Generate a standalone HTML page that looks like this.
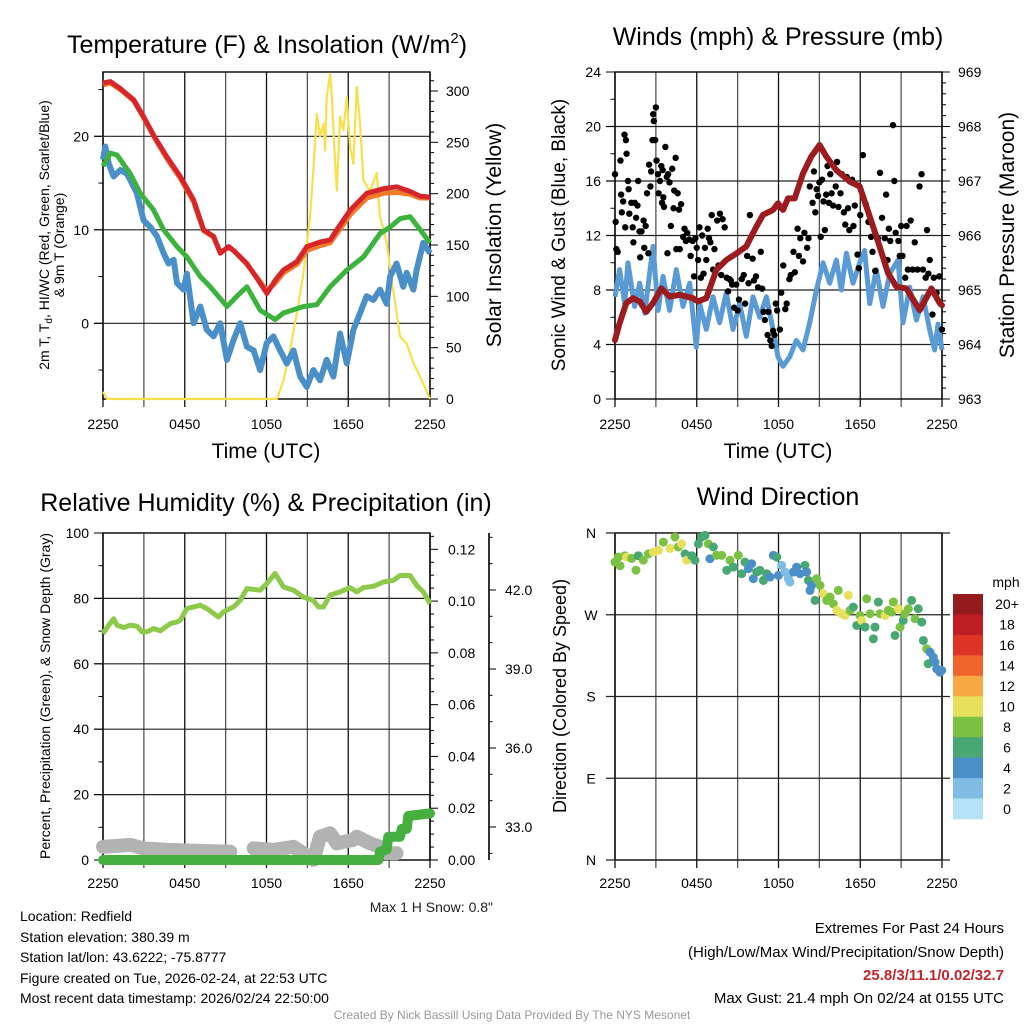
<!DOCTYPE html>
<html><head><meta charset="utf-8"><title>Mesonet Meteogram</title>
<style>
html,body{margin:0;padding:0;background:#fff;}
svg{display:block;font-family:"Liberation Sans",Arial,sans-serif;}
</style></head>
<body>
<svg id="chart" width="1024" height="1024" viewBox="0 0 1024 1024" xmlns="http://www.w3.org/2000/svg">
<rect x="0" y="0" width="1024" height="1024" fill="#fff"/>
<text x="267" y="53" font-size="25" text-anchor="middle">Temperature (F) &amp; Insolation (W/m<tspan dy="-10" font-size="15">2</tspan><tspan dy="10">)</tspan></text>
<text x="778" y="45" font-size="25" text-anchor="middle">Winds (mph) &amp; Pressure (mb)</text>
<text x="266" y="511" font-size="25" text-anchor="middle">Relative Humidity (%) &amp; Precipitation (in)</text>
<text x="778" y="505" font-size="25" text-anchor="middle">Wind Direction</text>
<text x="266" y="458" font-size="21" text-anchor="middle">Time (UTC)</text>
<text x="778" y="458" font-size="21" text-anchor="middle">Time (UTC)</text>
<text transform="translate(49,235) rotate(-90)" font-size="14" text-anchor="middle">2m T, T<tspan dy="3" font-size="10">d</tspan><tspan dy="-3">, HI/WC (Red, Green, Scarlet/Blue)</tspan></text>
<text transform="translate(64,245) rotate(-90)" font-size="14" text-anchor="middle">&amp; 9m T (Orange)</text>
<text transform="translate(501,235) rotate(-90)" font-size="21" text-anchor="middle">Solar Insolation (Yellow)</text>
<text transform="translate(565,235) rotate(-90)" font-size="19" text-anchor="middle">Sonic Wind &amp; Gust (Blue, Black)</text>
<text transform="translate(1014,235) rotate(-90)" font-size="21" text-anchor="middle">Station Pressure (Maroon)</text>
<text transform="translate(50,696) rotate(-90)" font-size="14" text-anchor="middle">Percent, Precipitation (Green), &amp; Snow Depth (Gray)</text>
<text transform="translate(566,696) rotate(-90)" font-size="18" text-anchor="middle">Direction (Colored By Speed)</text>
<text x="493" y="912" font-size="14" text-anchor="end" fill="#222">Max 1 H Snow: 0.8"</text>
<g font-size="14" fill="#000">
<text x="20" y="921">Location: Redfield</text>
<text x="20" y="942">Station elevation: 380.39 m</text>
<text x="20" y="962">Station lat/lon: 43.6222; -75.8777</text>
<text x="20" y="983">Figure created on Tue, 2026-02-24, at 22:53 UTC</text>
<text x="20" y="1003">Most recent data timestamp: 2026/02/24 22:50:00</text>
</g>
<g font-size="15" text-anchor="end">
<text x="1004" y="933">Extremes For Past 24 Hours</text>
<text x="1004" y="957">(High/Low/Max Wind/Precipitation/Snow Depth)</text>
<text x="1004" y="980" font-weight="bold" fill="#c0272d">25.8/3/11.1/0.02/32.7</text>
<text x="1004" y="1003">Max Gust: 21.4 mph On 02/24 at 0155 UTC</text>
</g>
<text x="512" y="1019" font-size="12" fill="#999" text-anchor="middle">Created By Nick Bassill Using Data Provided By The NYS Mesonet</text>
</svg>
<script>
// ---------- DATA ----------
const tickLabels = ["2250","0450","1050","1650","2250"];
const redT = [0,0.54,1.27,2.25,2.98,3.72,4.69,5.67,6.65,7.38,8.12,8.61,9.22,9.58,10.56,11.30,12.03,12.64,13.25,14.23,14.96,15.94,16.67,17.16,18.14,19.36,20.59,21.56,22.54,23.28,24];
const redV = [25.7,25.85,25.1,23.9,22.1,20.1,17.8,15.7,13.2,10.0,9.3,7.5,8.2,7.8,6.4,4.8,3.2,4.6,5.7,6.6,8.2,8.7,8.9,10.0,12.1,13.9,14.4,14.6,14.1,13.6,13.5];
const orangeV = [25.5,25.7,25.0,23.8,22.0,20.0,17.6,15.5,13.0,9.9,9.2,7.6,8.1,7.8,6.3,4.9,3.5,4.3,5.4,6.3,7.8,8.3,8.6,9.6,11.6,13.4,13.9,14.0,13.8,13.4,13.4];
const greenT = [0,0.54,1.03,2.0,2.74,3.72,4.45,5.43,6.16,7.14,7.87,9.10,9.83,10.56,11.54,12.64,13.25,14.72,15.70,16.67,17.90,19.12,20.34,21.08,21.81,22.54,23.28,24];
const greenV = [16.8,18.2,18.0,16.0,13.9,12.1,10.0,8.2,7.1,5.0,3.9,1.8,2.9,3.9,1.4,0.4,1.1,1.8,2.0,3.9,5.7,7.1,9.6,10.3,11.2,11.4,10.0,8.6];
const blueT = [0,0.17,0.42,0.78,1.27,1.76,2.25,2.49,2.98,3.47,3.96,4.45,4.81,5.18,5.43,5.91,6.16,6.65,7.14,7.62,8.11,8.60,9.09,9.58,10.07,10.56,11.05,11.53,12.02,12.51,13.0,13.49,13.98,14.47,14.96,15.44,15.93,16.42,16.91,17.40,17.89,18.38,18.87,19.35,19.84,20.33,20.82,21.07,21.55,22.04,22.29,22.78,23.02,23.51,24];
const blueV = [17.5,18.9,17.1,15.7,16.4,16.0,14.6,13.9,11.0,10.3,9.3,7.5,6.4,6.8,4.3,3.6,5.3,0.0,1.8,-0.7,-1.4,0.0,-3.9,-1.8,0.0,-2.5,-2.9,-5.0,-2.1,-1.4,-2.9,-4.3,-2.9,-5.7,-6.8,-5.0,-6.1,-3.9,-5.7,-1.1,-4.3,-0.7,1.1,2.9,2.5,3.6,2.1,5.0,6.4,3.9,5.4,3.6,5.7,8.6,7.5];
const solarT = [0,0.3,12.76,13.25,13.73,14.22,14.71,15.20,15.44,15.69,15.93,16.18,16.30,16.42,16.67,16.79,16.91,17.16,17.40,17.64,17.89,18.13,18.38,18.62,18.87,19.11,19.60,20.09,20.33,20.82,21.31,21.80,22.29,22.78,23.26,24];
const solarV = [7,0,0,18,48,83,122,178,223,278,256,268,242,294,317,295,262,203,275,262,294,246,229,304,268,213,203,220,178,152,106,61,54,35,22,0];
const presT = [0,0.34,0.83,1.32,1.81,2.30,2.79,3.40,4.01,4.75,5.72,6.09,6.70,7.44,8.17,8.91,9.64,10.37,10.86,11.60,11.96,12.33,12.70,13.19,13.80,14.41,15.02,15.51,16.24,17.22,17.96,18.69,19.42,20.04,20.65,21.38,22.36,23.22,23.83,24];
const presV = [964.08,964.39,964.76,964.85,964.79,964.60,964.76,965.03,964.88,964.91,964.85,964.79,964.85,965.37,965.55,965.67,965.80,966.16,966.38,966.47,966.59,966.47,966.68,966.68,967.14,967.45,967.66,967.45,967.20,966.99,966.90,966.35,965.80,965.31,965.06,965.03,964.63,965.03,964.76,964.72];
const windT = [0,0.34,0.71,0.95,1.44,1.81,2.18,2.54,2.79,3.16,3.52,4.01,4.50,4.99,5.48,5.97,6.21,6.70,7.19,7.68,8.17,8.66,9.15,9.64,10.13,10.62,11.11,11.60,11.96,12.33,12.82,13.31,13.80,14.29,14.78,15.27,15.76,16.24,16.61,16.98,17.47,17.96,18.32,18.69,19.18,19.67,20.16,20.77,21.14,21.63,22.12,22.61,23.09,23.46,23.71,24];
const windV = [7.5,9.5,7.0,10.0,6.8,8.5,6.3,9.2,11.2,6.5,9.0,6.5,9.5,6.8,8.5,3.8,7.0,5.1,7.5,5.6,7.8,5.1,7.0,4.6,7.5,6.0,7.5,5.1,3.1,2.4,3.1,4.3,3.6,5.6,8.0,10.0,8.5,10.2,8.0,10.7,8.5,10.0,10.9,7.0,9.5,6.8,9.2,10.2,5.6,8.2,5.8,7.5,5.1,3.6,5.5,3.6];
const gustT = [0,0.05,0.1,0.2,0.4,0.45,0.5,0.6,0.7,0.75,0.8,0.85,0.95,1.0,1.05,1.2,1.3,1.35,1.45,1.55,1.65,1.7,1.8,1.85,1.95,2.1,2.15,2.25,2.35,2.45,2.5,2.6,2.65,2.75,2.8,2.85,2.95,3.0,3.05,3.15,3.2,3.3,3.4,3.45,3.5,3.55,3.6,3.7,3.8,3.85,3.9,4.0,4.1,4.2,4.3,4.35,4.45,4.5,4.6,4.7,4.75,4.85,5.0,5.1,5.2,5.3,5.45,5.55,5.7,5.8,5.9,6.0,6.1,6.2,6.3,6.4,6.5,6.6,6.7,6.8,6.9,7.0,7.1,7.2,7.3,7.5,7.6,7.7,7.8,7.9,8.05,8.2,8.3,8.4,8.5,8.6,8.75,8.9,9.0,9.1,9.3,9.45,9.55,9.7,9.8,9.9,10.1,10.2,10.35,10.5,10.7,10.8,10.9,11.0,11.2,11.25,11.4,11.5,11.6,11.7,11.8,11.9,12.1,12.2,12.35,12.5,12.6,12.8,12.9,13.1,13.2,13.4,13.5,13.6,13.8,13.9,14.1,14.2,14.3,14.5,14.6,14.7,14.8,14.9,15.0,15.1,15.2,15.3,15.4,15.5,15.6,15.7,15.8,15.9,16.0,16.2,16.3,16.4,16.55,16.65,16.8,16.9,17.0,17.1,17.2,17.4,17.5,17.6,17.8,17.9,18.0,18.2,18.4,18.6,18.8,18.9,19.1,19.3,19.45,19.6,19.8,19.9,20.0,20.1,20.2,20.4,20.5,20.6,20.8,20.9,21.0,21.1,21.3,21.4,21.5,21.7,21.85,22.0,22.2,22.35,22.5,22.6,22.8,22.9,23.0,23.1,23.3,23.4,23.6,23.8,24];
const gustV = [16.5,13,11,10.8,17.5,15,13.7,14.5,19.4,12.6,19,18,16,15.4,13.6,14.4,12.6,11.5,14.4,13.3,14.2,16,12.3,10.4,12.3,13.1,11.1,12.7,15.1,10.7,17.2,15.6,16.7,19,20.9,20.4,19,21.4,17.5,16.5,15.1,16,17.1,14.4,16.8,14.8,14.1,18.5,16.3,10.7,16.5,15.9,12.7,16.9,14,15.3,17.7,11,15.1,13.9,11,14.3,11.9,12.5,11.6,12.2,11.7,10.5,11.6,9,11.8,11.1,10.2,12.6,8.9,12,9.2,11.1,10.2,12.5,11.8,11.5,13.5,9.5,11,13.1,9.8,13.6,9.1,13.2,12.6,8.9,7.9,8.8,8.7,8.4,6.7,8.4,6.5,7.3,8.8,9.1,7.0,10.5,8.5,13.5,10.3,8.7,9,8.2,10.8,8.1,6.4,5.8,4.7,6.4,4.3,3.9,5,4.7,7,6.5,5.1,7.8,9.8,6.6,7,8.8,9.1,10.8,9.3,12.5,10.5,11.8,10.1,12.2,11.1,11.8,15.6,14.4,16.7,13.7,15.4,14.9,15.9,11.9,16.1,14.5,12.4,15,17.1,14.4,16.5,15.1,14.2,15.6,17.4,14.1,15.1,16.5,13.7,12.8,16.3,14,12.4,16.1,12.7,14.2,10.6,9.6,13.5,17.9,14.3,13,11.9,10.8,9.4,11.8,16.6,13.3,11.8,15,10.2,12.5,11.6,20.1,16,12.2,11.6,10.5,12.7,10.5,8.9,12.7,9.5,13.1,9.5,11.5,9.5,15.6,16.5,9.5,8.9,12.4,9.2,10.2,6.2,8.9,7.8,9,5.1];
const rhT = [0,0.42,0.78,1.03,1.52,2.0,2.49,2.86,3.23,3.71,4.20,4.45,4.94,5.43,5.67,6.16,6.65,7.14,7.62,8.11,8.48,8.85,9.58,10.07,10.56,11.53,12.02,12.63,13.25,13.98,14.71,15.44,15.81,16.18,16.67,17.40,18.13,18.62,19.11,19.84,20.58,21.31,21.80,22.53,23.02,23.51,24];
const rhV = [69.2,71.8,73.8,71.8,71.1,71.8,71.5,69.8,69.8,70.8,70.1,70.8,72.3,72.8,73.3,76.9,77.4,77.9,76.9,75.4,74.3,75.9,77.4,79.4,83.0,82.5,84.5,87.6,83.5,82.5,80.4,79.4,77.4,77.4,81.0,82.0,83.3,82.0,83.3,83.7,85.0,85.5,87.0,87.0,84.0,82.0,78.4];
const precipT = [0,20.21,20.33,20.82,20.94,21.55,21.80,21.92,22.29,22.41,24];
const precipV = [0,0,0.0032,0.004,0.009,0.009,0.009,0.012,0.012,0.017,0.018];
const snowT1 = [0,2.0,2.98,4.69,9.34];
const snowV1 = [32.25,32.32,32.19,32.13,32.06];
const snowT2 = [11.05,12.51,13.98,14.71,15.44,15.93,16.67,17.16,18.38,18.62,19.60,20.33,20.82,21.55];
const snowV2 = [32.19,32.13,32.25,32.0,31.75,32.63,32.76,32.38,32.51,32.63,32.38,32.25,32.0,32.0];
const dirT = [0,0.24,0.37,0.73,0.86,1.22,1.54,1.71,2.08,2.45,2.81,3.18,3.55,4.04,4.40,4.65,4.89,5.14,5.26,5.63,5.87,6.12,6.36,6.61,6.85,6.97,7.22,7.46,7.83,8.20,8.44,8.68,9.05,9.30,9.54,9.79,10.03,10.15,10.40,10.64,10.89,11.13,11.38,11.62,11.87,11.99,12.23,12.48,12.72,12.84,13.09,13.33,13.58,13.94,14.07,14.19,14.31,14.43,14.68,14.80,15.05,15.29,15.54,15.78,16.02,16.27,16.39,16.64,16.88,17.13,17.25,17.49,17.74,17.98,18.10,18.35,18.47,18.72,18.96,19.08,19.33,19.45,19.82,20.06,20.31,20.43,20.55,20.80,20.92,21.16,21.28,21.53,21.77,22.02,22.26,22.51,22.63,22.87,22.99,23.12,23.36,23.49,23.61,23.85,23.98];
const dirV = [328,333.5,324,335,333.5,332,319,335,330,337,339,341,350,343,355.6,344.6,348,337,330,335,330,348,355.6,357.4,348,331.7,344.6,335.4,335.4,318.9,330,322.5,335.4,315.2,328,320.7,326.2,309.7,317,318.9,307.8,315.2,311.5,335.4,333.5,313.3,324.4,317,309.7,306,317,322.5,315.2,324.4,317,307.8,296.8,302.3,285.8,309.7,302.3,293.1,285.8,289.5,282.1,274.8,296.8,271.1,269.3,291.3,274.8,278.4,258.2,269.3,263.7,256.4,287.6,271.1,243.5,256.4,284,271.1,269.3,274.8,272.9,284,247.2,276.6,256.4,263.7,271.1,276.6,285.8,265.6,276.6,261.9,241.7,232.5,216,228.8,223.3,217.8,210.5,206.8,208.7];
const dirSpd = [8,8,8,8,10,8,8,6,8,8,10,10,8,10,8,8,10,6,10,6,6,6,6,6,8,4,6,8,8,6,8,6,8,6,6,4,4,4,6,6,6,6,4,4,6,4,2,2,2,2,4,4,4,6,4,6,4,4,6,8,8,10,8,8,8,10,8,10,10,10,8,6,6,8,10,6,8,8,6,6,6,8,10,8,8,8,6,10,8,6,8,8,6,8,6,6,6,8,6,4,4,4,4,4,4];
const cbLabels = ["20+","18","16","14","12","10","8","6","4","2","0"];
const cbColors = ["#951a1d","#bd1e24","#de3428","#ef652b","#f5a843","#e7e05a","#7bc143","#48a772","#4a8fc8","#80bbe3","#b4e3f7"];

// ---------- HELPERS ----------
const NS = 'http://www.w3.org/2000/svg';
const svg = document.getElementById('chart');
function mk(tag, attrs, parent) {
  const e = document.createElementNS(NS, tag);
  for (const k in attrs) e.setAttribute(k, attrs[k]);
  (parent || svg).appendChild(e);
  return e;
}
function lin(d0, d1, r0, r1) { return v => r0 + (v - d0) / (d1 - d0) * (r1 - r0); }

const P1 = {x0:103, x1:430, y0:72, y1:399};
const P2 = {x0:615, x1:942, y0:72, y1:399};
const P3 = {x0:103, x1:430, y0:533, y1:860};
const P4 = {x0:615, x1:942, y0:533, y1:860};

function frame(P, name, gridYs, tickY) {
  const g = mk('g', {});
  
  
  for (let h = 0; h <= 24; h += 3) {
    const x = lin(0, 24, P.x0, P.x1)(h);
    const l = mk('line', {x1:x, x2:x, y1:P.y0, y2:P.y1 + 8, stroke: (h % 6 === 0) ? '#111' : '#555', 'stroke-width': 1.3}, g);
    
    
  }
  gridYs.forEach(y => {
    const l = mk('line', {x1:P.x0 - 9, x2:P.x1, y1:y, y2:y, stroke:'#222', 'stroke-width':1.2}, g);
    
    
  });
  const r = mk('rect', {x:P.x0, y:P.y0, width:P.x1 - P.x0, height:P.y1 - P.y0, fill:'none', stroke:'#000', 'stroke-width':1.4}, g);
  
  
  tickLabels.forEach((t, i) => {
    const x = lin(0, 24, P.x0, P.x1)(i * 6);
    const tx = mk('text', {x:x, y:tickY, 'font-size':14, 'text-anchor':'middle'}, g);
    tx.textContent = t;
    
    
  });
}
function ticks(x, y0, y1, step, majorEvery, dir, len, name, vmin, vmax, scale, fmt, labOff, anchor) {
  const g = mk('g', {});
  
  
  const n = Math.round((vmax - vmin) / step);
  for (let i = 0; i <= n; i++) {
    const v = vmin + i * step;
    const y = scale(v);
    if (y < Math.min(y0, y1) - 0.5 || y > Math.max(y0, y1) + 0.5) continue;
    const major = (i % majorEvery === 0);
    const L = major ? len : len / 2;
    const l = mk('line', {x1:x, x2:x + dir * L, y1:y, y2:y, stroke:'#000', 'stroke-width':1}, g);
    
    
    if (major && fmt) {
      const t = mk('text', {x:x + labOff, y:y + 5, 'font-size':14, 'text-anchor':anchor}, g);
      t.textContent = fmt(v);
      
      
    }
  }
}
function pathD(ts, vs, xs, ys) {
  return ts.map((t, i) => (i ? 'L' : 'M') + xs(t).toFixed(1) + ',' + ys(vs[i]).toFixed(1)).join('');
}

// ---------- PANEL 1 ----------
const x1s = lin(0, 24, P1.x0, P1.x1);
const tY = lin(0, 20, 323.3, 136.3);
const sY = lin(0, 300, 399, 91);
frame(P1, 'temperature', [tY(0), tY(10), tY(20)], 429);
ticks(P1.x0, P1.y0, P1.y1, 5, 2, -1, 9, 'temperature-y-axis', -10, 30, tY, v => v, -14, 'end');
ticks(P1.x1, P1.y0, P1.y1, 10, 5, 1, 8, 'insolation-y-axis', 0, 320, sY, v => v, 16, 'start');
let e;
e = mk('path', {d:pathD(solarT, solarV, x1s, sY), fill:'none', stroke:'#f7e04b', 'stroke-width':2.2, 'stroke-linejoin':'round'});


e = mk('path', {d:pathD(blueT, blueV, x1s, tY), fill:'none', stroke:'#4a8fc8', 'stroke-width':6, 'stroke-linejoin':'round'});


e = mk('path', {d:pathD(greenT, greenV, x1s, tY), fill:'none', stroke:'#3cb33d', 'stroke-width':5, 'stroke-linejoin':'round'});


e = mk('path', {d:pathD(redT, orangeV, x1s, tY), fill:'none', stroke:'#f07a2a', 'stroke-width':5, 'stroke-linejoin':'round'});


e = mk('path', {d:pathD(redT, redV, x1s, tY), fill:'none', stroke:'#d7262b', 'stroke-width':5, 'stroke-linejoin':'round'});



// ---------- PANEL 2 ----------
const x2s = lin(0, 24, P2.x0, P2.x1);
const wY = lin(0, 24, 399, 72);
const pY = lin(963, 969, 399, 72);
frame(P2, 'winds', [4, 8, 12, 16, 20].map(wY), 429);
ticks(P2.x0, P2.y0, P2.y1, 2, 2, -1, 9, 'wind-y-axis', 0, 24, wY, v => v, -14, 'end');
ticks(P2.x1, P2.y0, P2.y1, 0.2, 5, 1, 8, 'pressure-y-axis', 963, 969, pY, v => Math.round(v), 16, 'start');
e = mk('path', {d:pathD(windT, windV, x2s, wY), fill:'none', stroke:'#5b9bd5', 'stroke-width':5, 'stroke-linejoin':'round'});


const gustG = mk('g', {fill:'#000'});


gustT.forEach((t, i) => {
  const c = mk('circle', {cx:x2s(t), cy:wY(gustV[i]), r:3.2}, gustG);
  
  
});
e = mk('path', {d:pathD(presT, presV, x2s, pY), fill:'none', stroke:'#9b1b1e', 'stroke-width':6, 'stroke-linejoin':'round', 'stroke-linecap':'round'});



// ---------- PANEL 3 ----------
const x3s = lin(0, 24, P3.x0, P3.x1);
const rY = lin(0, 100, 860, 533);
const prY = lin(0, 0.12, 860, 549.3);
const snY = lin(33, 42, 827, 590);
frame(P3, 'humidity', [20, 40, 60, 80].map(rY), 888);
ticks(P3.x0, P3.y0, P3.y1, 10, 2, -1, 9, 'humidity-y-axis', 0, 100, rY, v => v, -14, 'end');
e = mk('line', {x1:P3.x1, x2:P3.x1, y1:536, y2:860, stroke:'#000', 'stroke-width':1.2});


ticks(P3.x1, 536, 860, 0.005, 4, 1, 8, 'precip-y-axis', 0, 0.125, prY, v => v.toFixed(2), 18, 'start');
e = mk('line', {x1:489, x2:489, y1:533, y2:860, stroke:'#000', 'stroke-width':1.6});


ticks(489, 533, 860, 1, 3, 1, 7, 'snow-y-axis', 30, 45, snY, v => v.toFixed(1), 16, 'start');
e = mk('path', {d:pathD(snowT1, snowV1, x3s, snY), fill:'none', stroke:'#b3b3b3', 'stroke-width':14, 'stroke-linejoin':'round', 'stroke-linecap':'round'});


e = mk('path', {d:pathD(snowT2, snowV2, x3s, snY), fill:'none', stroke:'#b3b3b3', 'stroke-width':14, 'stroke-linejoin':'round', 'stroke-linecap':'round'});


e = mk('path', {d:pathD(precipT, precipV, x3s, prY), fill:'none', stroke:'#45b040', 'stroke-width':10, 'stroke-linejoin':'round', 'stroke-linecap':'round'});


e = mk('path', {d:pathD(rhT, rhV, x3s, rY), fill:'none', stroke:'#8dc94a', 'stroke-width':5, 'stroke-linejoin':'round'});



// ---------- PANEL 4 ----------
const x4s = lin(0, 24, P4.x0, P4.x1);
const dY = lin(360, 0, 533, 860);
frame(P4, 'direction', [], 888);
const dirG = mk('g', {});


["N","W","S","E","N"].forEach((lab, i) => {
  const y = dY(360 - i * 90);
  const l = mk('line', {x1:P4.x0 - 9, x2:P4.x1 + 8, y1:y, y2:y, stroke:'#222', 'stroke-width':1.3}, dirG);
  
  
  const t = mk('text', {x:591, y:y + 5, 'font-size':14, 'text-anchor':'middle'}, dirG);
  t.textContent = lab;
  
  
});
function spdColor(s) { const idx = Math.min(10, Math.floor(s / 2)); return cbColors[10 - idx]; }
const dotG = mk('g', {});


dirT.forEach((t, i) => {
  const c = mk('circle', {cx:x4s(t), cy:dY(dirV[i]), r:4.5, fill:spdColor(dirSpd[i])}, dotG);
  
  
});
// colorbar
const cbG = mk('g', {});


const cbH = (819 - 594) / cbColors.length;
cbColors.forEach((c, i) => {
  const r = mk('rect', {x:953, y:594 + i * cbH, width:30, height:cbH + 0.3, fill:c}, cbG);
  
  
  const t = mk('text', {x:1007, y:594 + i * cbH + cbH / 2 + 5, 'font-size':14, 'text-anchor':'middle'}, cbG);
  t.textContent = cbLabels[i];
  
  
});
e = mk('text', {x:1006, y:587, 'font-size':14, 'text-anchor':'middle'}, cbG);
e.textContent = 'mph';


</script>
</body></html>
